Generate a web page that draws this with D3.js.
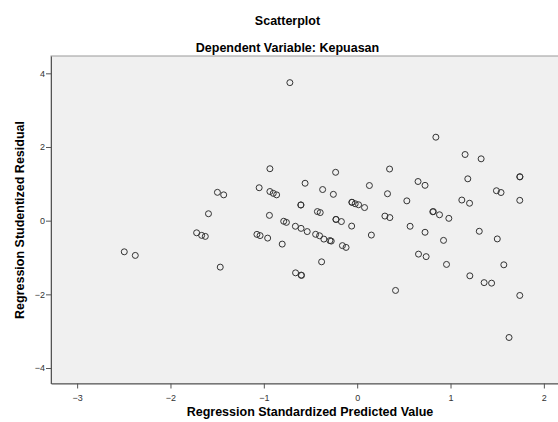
<!DOCTYPE html>
<html>
<head>
<meta charset="utf-8">
<script src="https://cdn.jsdelivr.net/npm/d3@7"></script>
<style>
  body { margin: 0; background: #fff; }
  text { font-family: "Liberation Sans", Arial, sans-serif; }
</style>
</head>
<body>
<div class="scatter"></div>
<script>
// regression standardized predicted value (x) and studentized residual (y)
const predicted = [-2.495, -2.377, -1.720, -1.666, -1.627, -1.593, -1.497, -1.430, -1.467,
  -0.721, -0.935, -0.231, -1.050, -0.935, -0.899, -0.863, -0.558, -0.370, -0.255, -0.603, -0.603,
  -0.426, -0.396, -0.057, -0.055, -0.021, 0.015, 0.079, -0.940, -0.787, -0.758, -0.662, -0.601,
  -0.535, -0.228, -0.226, -0.169, -0.059, -0.445, -0.403, -0.357, -0.292, -0.278, -0.158, -0.119,
  -1.074, -1.040, -0.959, -0.803, -0.381, -0.660, -0.600, -0.596,
  0.843, 1.156, 1.328, 0.347, 1.185, 0.131, 0.652, 0.727, 0.325, 0.532, 1.121, 1.204, 0.810,
  0.816, 0.882, 0.982, 0.297, 0.350, 0.152, 0.567, 0.727, 0.925, 1.308, 1.501, 0.657, 0.739,
  0.957, 1.571, 1.207, 1.360, 1.440, 0.411, 1.742, 1.627, 1.492, 1.541, 1.742, 1.744, 1.742];
const residual = [-0.845, -0.943, -0.329, -0.399, -0.427, 0.188, 0.769, 0.701, -1.261,
  3.747, 1.410, 1.313, 0.894, 0.791, 0.742, 0.701, 1.016, 0.845, 0.715, 0.424, 0.428,
  0.247, 0.220, 0.500, 0.498, 0.459, 0.432, 0.356, 0.144, -0.016, -0.046, -0.152, -0.209,
  -0.296, 0.035, 0.033, -0.024, -0.147, -0.370, -0.410, -0.500, -0.541, -0.554, -0.677, -0.726,
  -0.372, -0.405, -0.473, -0.636, -1.117, -1.416, -1.478, -1.486,
  2.266, 1.796, 1.679, 1.402, 1.136, 0.954, 1.063, 0.959, 0.731, 0.538, 0.560, 0.473, 0.242,
  0.247, 0.160, 0.063, 0.125, 0.084, -0.391, -0.152, -0.315, -0.535, -0.288, -0.495, -0.908, -0.976,
  -1.188, -1.198, -1.497, -1.682, -1.696, -1.894, -2.030, -3.171, 0.813, 0.764, 1.193, 1.188, 0.552];
const xTicks = [-3, -2, -1, 0, 1, 2];
const yTicks = [-4, -2, 0, 2, 4];

const width = 558, height = 422;
const plot = {left: 51, top: 56, right: 570, bottom: 383.5};

const svg = d3.select("div.scatter").append("svg")
    .attr("width", width)
    .attr("height", height);

const x = d3.scaleLinear().domain([-3.28, 2.28]).range([plot.left, plot.right]);
const y = d3.scaleLinear().domain([-4.42, 4.47]).range([plot.bottom, plot.top]);

svg.append("rect")
    .attr("x", plot.left).attr("y", plot.top)
    .attr("width", plot.right - plot.left).attr("height", plot.bottom - plot.top)
    .attr("fill", "#f0f0f0")
    .attr("stroke", "#999");

svg.append("g")
    .attr("transform", "translate(0," + plot.bottom + ")")
    .call(d3.axisBottom(x).tickValues(xTicks).tickSize(5).tickSizeOuter(0).tickFormat(d3.format("d")))
    .call(g => g.select(".domain").attr("stroke", "#555"))
    .call(g => g.selectAll(".tick line").attr("stroke", "#555"))
    .call(g => g.selectAll(".tick text").attr("fill", "#333").attr("font-size", 9)
        .attr("font-family", "Liberation Sans, Arial, sans-serif").attr("dy", "1.1em"));

svg.append("g")
    .attr("transform", "translate(" + plot.left + ",0)")
    .call(d3.axisLeft(y).tickValues(yTicks).tickSize(5).tickSizeOuter(0).tickFormat(d3.format("d")))
    .call(g => g.select(".domain").attr("stroke", "#555"))
    .call(g => g.selectAll(".tick line").attr("stroke", "#555"))
    .call(g => g.selectAll(".tick text").attr("fill", "#333").attr("font-size", 9)
        .attr("font-family", "Liberation Sans, Arial, sans-serif").attr("x", -6));

svg.append("g")
    .selectAll("circle")
    .data(predicted.map((d, i) => [d, residual[i]]))
    .enter().append("circle")
    .attr("cx", d => x(d[0]))
    .attr("cy", d => y(d[1]))
    .attr("r", 3)
    .attr("fill", "none")
    .attr("stroke", "#333")
    .attr("stroke-width", 1);

svg.append("text")
    .attr("x", 287.5).attr("y", 25)
    .attr("text-anchor", "middle")
    .attr("font-size", 12.5).attr("font-weight", "bold")
    .text("Scatterplot");

svg.append("text")
    .attr("x", 287.5).attr("y", 52)
    .attr("text-anchor", "middle")
    .attr("font-size", 12.5).attr("font-weight", "bold")
    .text("Dependent Variable: Kepuasan");

svg.append("text")
    .attr("x", 310).attr("y", 416)
    .attr("text-anchor", "middle")
    .attr("font-size", 12.5).attr("font-weight", "bold")
    .text("Regression Standardized Predicted Value");

svg.append("text")
    .attr("transform", "translate(24,220) rotate(-90)")
    .attr("text-anchor", "middle")
    .attr("font-size", 12.5).attr("font-weight", "bold")
    .text("Regression Studentized Residual");
</script>
</body>
</html>
